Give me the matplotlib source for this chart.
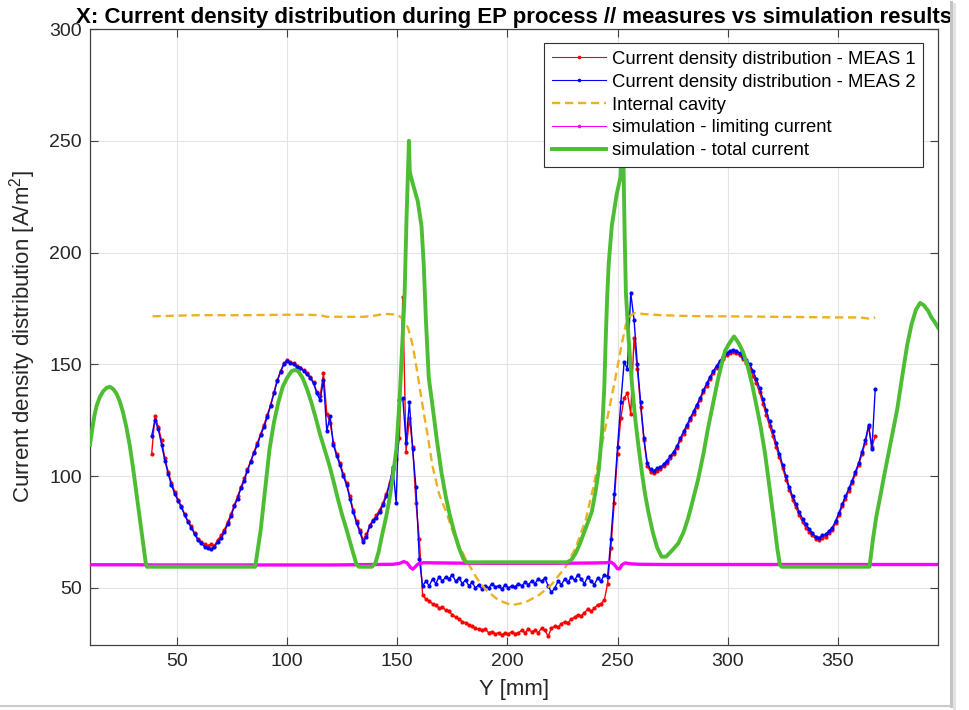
import numpy as np
import matplotlib
matplotlib.use("Agg")
import matplotlib.pyplot as plt
from matplotlib.lines import Line2D

plt.rcParams['font.family'] = ['Liberation Sans', 'DejaVu Sans']
plt.rcParams['mathtext.fontset'] = 'custom'
plt.rcParams['mathtext.rm'] = 'Liberation Sans'
plt.rcParams['mathtext.default'] = 'regular'

# ---------------- data ----------------
title = "X: Current density distribution during EP process // measures vs simulation results"
xlabel = "Y [mm]"
ylabel = "Current density distribution [A/m$^2$]"
labels = ["Current density distribution - MEAS 1",
          "Current density distribution - MEAS 2",
          "Internal cavity",
          "simulation - limiting current",
          "simulation - total current"]
xticks = [50, 100, 150, 200, 250, 300, 350]
yticks = [50, 100, 150, 200, 250, 300]

# measurement positions (mm), 1.5 mm step from 38.5 to 367
meas_pos = np.arange(38.5, 367.01, 1.5)

meas1 = [
    110, 127, 122, 116, 108, 102, 97, 93, 89.5, 86.5,
    83, 80, 77.5, 74.5, 72, 70.5, 69.5, 69, 69.5, 69,
    71.5, 73.5, 76, 79.5, 83, 87, 91, 95, 99, 103,
    107, 111, 115, 119, 123, 127.5, 132, 137.5, 143, 147,
    150.5, 152, 151, 150.5, 149.5, 148.5, 147.5, 146, 144.5, 142,
    137.5, 136, 146, 128, 124, 115, 110, 106, 101, 97,
    91, 85, 80, 76, 71.5, 74, 78, 80.5, 82.5, 85,
    88, 92, 97, 103, 107.5, 117, 180, 111, 126, 113,
    88, 72, 47, 45, 44, 43, 42.5, 41, 41.5, 40,
    39.5, 38, 37, 36, 35, 34.5, 33.5, 33, 32, 31.5,
    31, 31.5, 30, 30.5, 29.5, 30, 29, 30, 29.5, 30.5,
    29.5, 30, 31, 30, 31.5, 30.5, 31, 30, 32, 31,
    28.5, 32, 33, 32.5, 34, 35, 34.5, 36, 37, 38,
    37.5, 39, 40.5, 39.5, 41, 42.5, 43, 44.5, 52, 68,
    88, 110, 126, 135, 137, 128, 162, 148, 131, 116,
    104.5, 102, 101.5, 102.5, 103, 104.5, 106, 108, 110, 112.5,
    116, 119, 122, 125, 128, 131, 134, 137.5, 140.5, 143.5,
    146, 148.5, 150.5, 152.5, 154, 155, 155.5, 155, 154, 152.5,
    150.5, 148, 145, 141.5, 137.5, 132.5, 127.5, 122.5, 118, 113,
    108.5, 103.5, 98.5, 94, 89.5, 86, 82.5, 79.5, 77, 75,
    73.5, 72, 71.5, 72.5, 73, 74.5, 76, 79, 82.5, 86.5,
    90, 93.5, 97, 101, 105, 110, 115, 122, 113, 118,
]

meas2 = [
    118, 125, 121, 114, 107, 101, 96, 92, 89, 86,
    82.5, 79.5, 77, 74, 71.5, 70, 68.5, 68, 67.5, 68.5,
    70.5, 72.5, 75, 78.5, 82, 86.5, 90, 94.5, 98, 102.5,
    106.5, 110.5, 114, 118.5, 122, 126.5, 131.5, 137, 142.5, 146.5,
    150, 151.5, 150.5, 150, 149, 148.5, 147, 145.5, 144, 141.5,
    137, 134, 143, 120, 127, 114, 109, 105, 100, 96,
    90, 84, 79, 75, 70.5, 73, 77.5, 80, 81.5, 84,
    87, 91, 96, 104, 88, 134, 135, 115, 133, 112,
    95, 63, 51, 53, 51, 54, 52, 55, 53, 55,
    54, 56, 53, 54.5, 52, 53.5, 51, 52.5, 50, 51.5,
    49.5, 51, 50, 52, 50.5, 51, 49.5, 51.5, 50, 51,
    50.5, 52, 51, 52.5, 51.5, 53, 52, 54, 53, 54.5,
    51, 48, 50, 53, 51.5, 54, 52.5, 55, 53.5, 56,
    54, 52, 55, 53, 51.5, 54.5, 53, 56, 55, 72,
    92, 113, 133, 151, 148, 182, 170, 150, 133, 117,
    106, 103, 102.5, 103.5, 104, 105.5, 107, 109, 111, 113.5,
    117, 120, 123, 126, 129, 132, 135, 138.5, 141.5, 144.5,
    147, 149.5, 151.5, 153.5, 155, 156, 156.5, 156, 155, 153.5,
    152, 150, 147, 143.5, 139.5, 134.5, 129.5, 124.5, 120, 115,
    110, 105, 100, 95, 91, 87.5, 84, 81, 78.5, 76.5,
    74.5, 73, 72.5, 73.5, 74, 75.5, 77, 80, 83.5, 87.5,
    91, 94.5, 98, 102, 106, 111, 116, 123, 112, 139,
]

cavity_x = [38.9, 50, 60, 70, 80, 90, 100, 110, 115, 118, 125, 130, 135, 140, 144,
            148, 151, 153, 155, 157, 159, 161.5, 164, 166, 169, 172.3, 176, 181.3,
            186, 190.4, 196, 202, 208, 214.3, 220, 226.5, 231, 235.6, 239, 242.8,
            246, 249, 251.5, 253.7, 256, 258, 262, 270, 280, 290, 300, 310, 320,
            330, 340, 350, 360, 364.8, 367]
cavity_y = [171.5, 171.8, 172, 172, 172, 172.1, 172.2, 172.2, 172, 171.3, 171.3,
            171.3, 171.3, 171.8, 172.6, 172.4, 171.5, 170, 166, 158.6, 147, 131.5,
            117, 104.5, 92, 83.8, 73, 62.6, 54.5, 49, 44.5, 42.3, 43.5, 46.8, 51.5,
            59.5, 68, 80.6, 95, 113.5, 129, 143.7, 157, 167.6, 172, 173, 172.5, 172,
            171.7, 171.5, 171.5, 171.4, 171.3, 171.2, 171.1, 171, 171, 170.4, 171]

lim_x = [10.5, 20, 30, 40, 50, 60, 70, 80, 90, 100, 110, 120, 130, 140, 148, 151,
         153, 154.5, 156, 157, 158, 159.5, 162, 170, 180, 190, 200, 210, 220, 230,
         240, 245, 247, 248.5, 250, 251, 252, 253.5, 256, 260, 270, 280, 290, 300,
         310, 320, 330, 340, 350, 360, 370, 380, 390, 395.5]
lim_y = [60.4, 60.4, 60.4, 60.3, 60.3, 60.3, 60.3, 60.3, 60.3, 60.3, 60.3, 60.3,
         60.4, 60.5, 60.6, 61, 61.8, 61.2, 59.2, 58.4, 59.3, 60.8, 61.3, 61.2, 61.1,
         61.0, 61.0, 61.0, 61.0, 61.1, 61.2, 61.3, 61.6, 60.5, 58.6, 58.6, 60.4,
         61.2, 60.8, 60.6, 60.5, 60.5, 60.5, 60.5, 60.5, 60.5, 60.5, 60.5, 60.5,
         60.5, 60.5, 60.5, 60.5, 60.5]

tot_x = [10.5, 11.5, 12.5, 13.5, 15, 16.5, 18, 19.5, 21, 22.5, 24, 25.5, 27, 28.5,
         30, 31.5, 33, 34.5, 35.7, 36.3,
         85.5, 86.5, 88, 90, 92, 94, 96, 98, 100, 102, 103.6, 105, 107, 109, 111,
         113, 115, 117, 119, 121, 123, 125, 127, 129, 130.5, 131.5, 132.5,
         138.5, 140, 141.5, 143.4, 145, 146.5, 148, 149.6, 151.1, 152.6, 153.3,
         154.2, 155.3, 155.7, 157, 159.3, 161, 162, 163, 164.3, 166, 168, 170,
         172, 174, 176, 178, 180, 181.5,
         227, 229, 231, 233, 236, 238.3, 240, 241.5, 243, 244, 244.6, 245.3, 246,
         247.4, 249.6, 251.4, 252.2, 252.7, 253.2, 253.8, 255, 256.5, 258, 259.5,
         261, 262.5, 264, 266, 268, 270, 272, 274.5, 277.6, 280, 282, 284, 286.6,
         289, 291, 293.5, 295.7, 297.5, 298.8, 300.5, 302.9, 305, 307, 309, 311,
         313, 315, 317, 319, 321, 322.5, 323.7, 324.5,
         364.4, 366, 367.5, 369.3, 371, 373, 375, 377, 379, 381.5, 383.5, 385.5,
         387.4, 389, 391, 392.5, 394, 395.5]
tot_y = [114, 121, 127, 131.5, 135.5, 138, 139.5, 140, 139, 137, 133.5, 128.5, 122,
         114, 104, 93, 82, 71, 62, 59.5,
         59.5, 66, 76, 94, 112, 124, 133, 140, 144, 147, 147.5, 147, 144, 139, 133,
         126, 118.5, 112, 105.5, 98, 90, 82.5, 76, 69, 64, 60.5, 59.5,
         59.5, 61, 66, 75, 82, 90, 100, 112, 135, 165, 180,
         215, 250, 236, 231, 223, 212, 195, 170, 144, 131.5, 116, 102,
         91, 82, 74.5, 68, 63, 61.5,
         61.5, 62.5, 65.5, 70, 78, 84, 93, 103, 120, 140, 160, 180, 195,
         212, 226, 234, 252, 240, 210, 182, 162, 142, 126, 113.5,
         102, 92, 84, 75, 68, 64, 64, 66.5, 70, 75, 81, 88.5, 98.6,
         110, 121, 133, 143.7, 151, 156, 159, 162.5, 159.5, 155.5, 149.5, 141.5,
         132, 122, 110, 95, 80, 68, 60.5, 59.5,
         59.5, 72, 82, 91, 100, 110, 120, 130, 143, 158.6, 168, 174.5,
         177.5, 176.5, 174, 171, 169, 166.5]

# ---------------- figure ----------------
W, H = 969, 710
fig = plt.figure(figsize=(W / 100, H / 100), dpi=100)
fig.patch.set_facecolor('white')

# screenshot frame / drop shadow
fig.add_artist(Line2D([951 / W, 951 / W], [1 - 2 / H, 1 - 706 / H],
                      transform=fig.transFigure, color='#c4c4c4', lw=2.2))
fig.add_artist(Line2D([954 / W, 954 / W], [1 - 4 / H, 1 - 708 / H],
                      transform=fig.transFigure, color='#e2e2e2', lw=2.2))
fig.add_artist(Line2D([0, 952 / W], [1 - 705.5 / H, 1 - 705.5 / H],
                      transform=fig.transFigure, color='#cacaca', lw=1.5))

ax = fig.add_axes([90 / W, (H - 645) / H, (938 - 90) / W, (645 - 29) / H])

red = '#ff0000'
blue = '#0000ff'
orange = '#EDB120'
magenta = '#ff00ff'
green = '#4dbd33'

h1, = ax.plot(meas_pos, meas1, color=red, lw=1.0, marker='o', ms=3.0,
              mew=0, label=labels[0], zorder=3)
h2, = ax.plot(meas_pos, meas2, color=blue, lw=1.0, marker='o', ms=3.0,
              mew=0, label=labels[1], zorder=3)
h3, = ax.plot(cavity_x, cavity_y, color=orange, lw=1.7, ls=(0, (3.5, 2)),
              label=labels[2], zorder=4)
ax.plot(lim_x, lim_y, color=magenta, lw=2.4, zorder=4)
h4 = Line2D([], [], color=magenta, lw=0.8, marker='o', ms=2.6, mew=0)
h5, = ax.plot(tot_x, tot_y, color=green, lw=2.8, label=labels[4], zorder=5,
              solid_joinstyle='round')
h1b = Line2D([], [], color=red, lw=0.8, marker='o', ms=2.6, mew=0)
h2b = Line2D([], [], color=blue, lw=0.8, marker='o', ms=2.6, mew=0)

ax.set_xlim(10.5, 395.5)
ax.set_ylim(24.5, 300)
ax.set_xticks(xticks)
ax.set_yticks(yticks)

axcol = '#404040'
ax.grid(True, color='#e3e3e3', lw=0.8)
ax.set_axisbelow(True)
for s in ax.spines.values():
    s.set_color(axcol)
    s.set_linewidth(0.9)
ax.tick_params(direction='in', length=6, width=0.8, colors=axcol,
               top=True, right=True, labelsize=14, labelcolor='#262626', pad=6)

ax.set_xlabel(xlabel, fontsize=16, color='#262626', labelpad=6)
ax.set_ylabel(ylabel, fontsize=16, color='#262626')
ax.yaxis.set_label_coords(-0.061, 0.5)
ax.set_title(title, fontsize=16, fontweight='bold', color='black', pad=4)

leg = ax.legend([h1b, h2b, h3, h4, h5], labels, loc='upper right',
                bbox_to_anchor=(0.9823, 0.9773), borderaxespad=0,
                fontsize=13.3, handlelength=2.9, handletextpad=0.32,
                labelspacing=0.32, borderpad=0.42, fancybox=False,
                framealpha=1, edgecolor='#303030', numpoints=1)
leg.get_frame().set_linewidth(0.8)
leg.set_zorder(10)

fig.savefig('out.png', dpi=100, facecolor='white')
